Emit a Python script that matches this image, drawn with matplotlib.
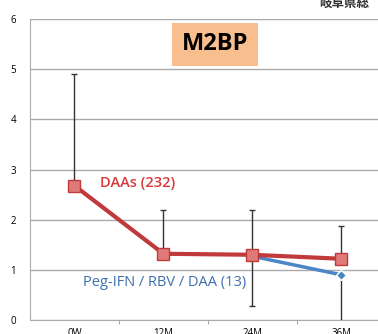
import matplotlib.pyplot as plt
import numpy as np

plt.rcParams['font.family'] = ['Open Sans', 'Noto Sans CJK JP', 'DejaVu Sans']

months = ['0W', '12M', '24M', '36M']
daa_vals = [2.68, 1.32, 1.30, 1.22]
daa_upper = [4.90, 2.20, 2.20, 1.88]
peg_idx = [2, 3]
peg_vals = [1.27, 0.90]
peg_lower = [0.27, -0.2]

red = '#C0393B'
blue = '#4A86C5'

fig = plt.figure(figsize=(3.78, 3.34), dpi=100)
ax = fig.add_axes([0.079, 0.042, 0.942, 0.901])

x = np.arange(len(months)) + 0.5

# error bars
up = np.array(daa_upper) - np.array(daa_vals)
ax.errorbar(x, daa_vals, yerr=[np.zeros(4), up], fmt='none', ecolor='#333333',
            elinewidth=1, capsize=2.5, zorder=2)
px = x[peg_idx]
lo = np.array(peg_vals) - np.array(peg_lower)
ax.errorbar(px, peg_vals, yerr=[lo, np.zeros(2)], fmt='none', ecolor='#333333',
            elinewidth=1, capsize=2.5, zorder=2)

ax.plot(px, peg_vals, color=blue, lw=2.5, marker='D', ms=5, mfc=blue, mec='white', zorder=3)
ax.plot(x, daa_vals, color=red, lw=3, marker='s', ms=8, mfc='#E07A78', mec=red, mew=1, zorder=4)

ax.set_xlim(0, 4)
ax.set_ylim(0, 6)
ax.set_yticks(range(7))
ax.set_xticks(x)
ax.set_xticklabels(months, fontsize=7)
ax.set_xticks([1, 2, 3], minor=True)
ax.tick_params(axis='x', which='major', length=0, pad=6)
ax.tick_params(axis='x', which='minor', length=3, color='#999999')
ax.tick_params(axis='y', length=0, labelsize=7, pad=10)
ax.yaxis.grid(True, color='#AAAAAA', lw=1)
ax.set_axisbelow(True)
for s in ['top', 'right']:
    ax.spines[s].set_visible(False)
ax.spines['left'].set_color('#AAAAAA')
ax.spines['bottom'].set_color('#AAAAAA')

ax.text(0.79, 2.74, 'DAAs (232)', color='#D9383A', fontsize=10.5, fontweight='semibold', va='center')
ax.text(0.6, 0.74, 'Peg-IFN / RBV / DAA (13)', color='#3D6FAF', fontsize=10.5, va='center')

ax.text(2.08, 5.5, 'M2BP', fontsize=17, fontweight='bold', ha='center', va='center',
        bbox=dict(boxstyle='square,pad=0.4', fc='#F9BE8D', ec='none'))

fig.text(0.845, 0.99, '岐阜県総', fontsize=9, fontweight='bold', color='#333333', va='center', ha='left')

fig.savefig('out.png', dpi=100)
